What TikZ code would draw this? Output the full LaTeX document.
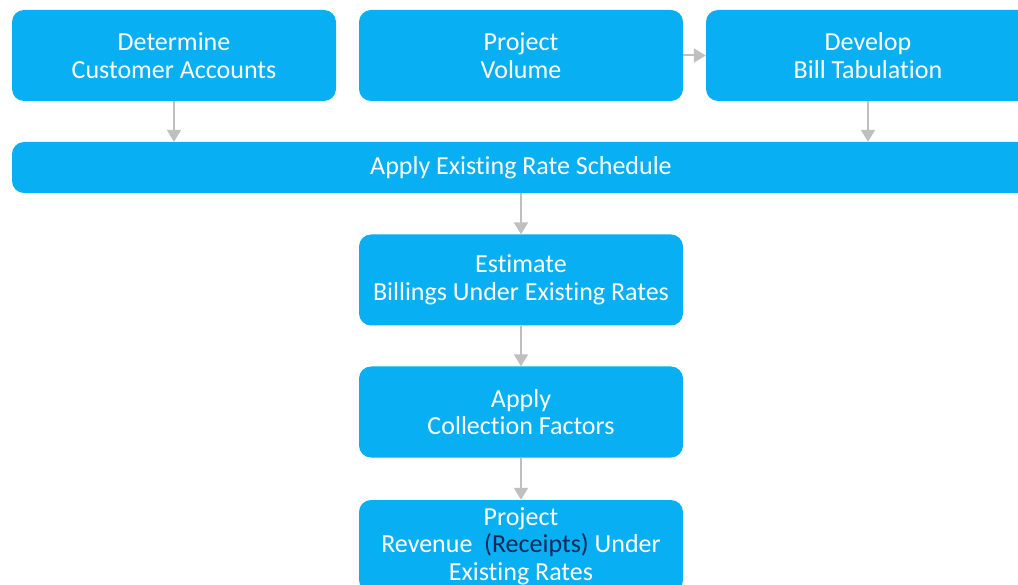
\documentclass[tikz,border=0pt]{standalone}
\usepackage{fontspec}
\setmainfont{Carlito}[Ligatures=NoCommon]
\usepackage{tikz}
\usetikzlibrary{arrows.meta}
\definecolor{boxblue}{HTML}{08AFF2}
\definecolor{arrowgray}{HTML}{BFBFBF}
\definecolor{navy}{HTML}{10295A}
\tikzset{
  stepbox/.style={fill=boxblue, rounded corners=12pt, minimum width=324pt, minimum height=91pt,
    text=white, align=center, inner sep=0pt, font=\fontsize{26}{27.5}\selectfont},
  link/.style={arrowgray, line width=2pt, -{Triangle[width=14pt,length=12pt]}}
}

\begin{document}
\begin{tikzpicture}[x=1pt,y=-1pt]
			\useasboundingbox (0,0) rectangle (1018,585);
			\node[stepbox] (accts) at (174,55.5) {Determine\\Customer Accounts};
			\node[stepbox] (volume) at (521,55.5) {Project\\Volume};
			\node[stepbox] (tab) at (868,55.5) {Develop\\Bill Tabulation};
			\node[stepbox, minimum width=1018pt, minimum height=51pt, text height=18pt] (sched) at (521,167.5) {Apply Existing Rate Schedule};
			\node[stepbox] (billing) at (521,280) {Estimate\\Billings Under Existing Rates};
			\node[stepbox] (collect) at (521,412) {Apply\\Collection Factors};
			\node[stepbox, minimum height=92pt] (revenue) at (521,546) {Project\\Revenue \ {\color{navy}(Receipts)} Under\\Existing Rates};
			\draw[link] (volume.east) -- (tab.west);
			\draw[link] (accts.south) -- (accts.south |- sched.north);
			\draw[link] (tab.south) -- (tab.south |- sched.north);
			\draw[link] (sched.south -| billing.north) -- (billing.north);
			\draw[link] (billing.south) -- (collect.north);
			\draw[link] (collect.south) -- (revenue.north);
\end{tikzpicture}
\end{document}
